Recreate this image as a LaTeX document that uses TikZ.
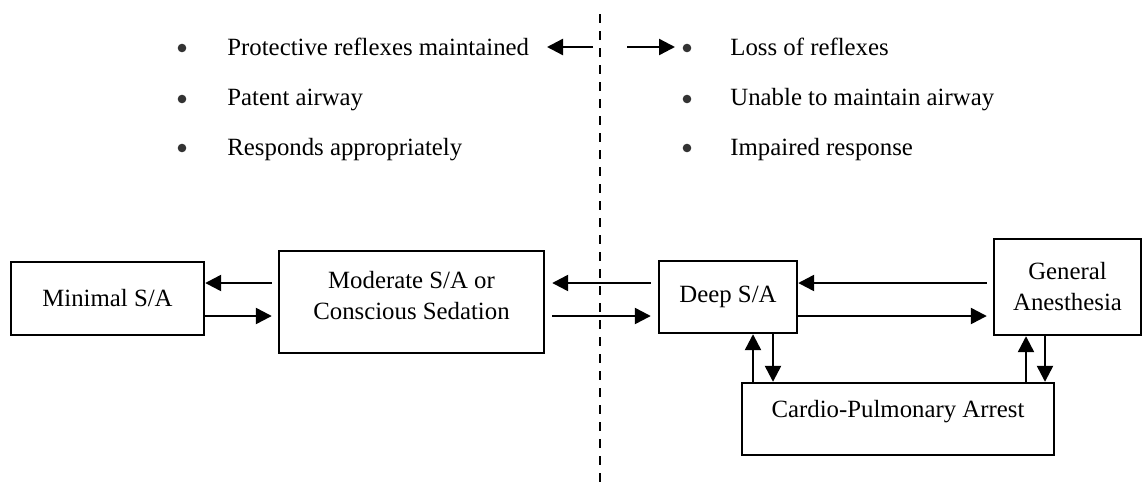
\documentclass[tikz,border=0pt]{standalone}
\usepackage{fontspec}
\setmainfont{Liberation Serif}
\usetikzlibrary{arrows.meta}
\tikzset{
  box/.style={draw, line width=1.2pt, inner sep=0pt, align=center},
  arr/.style={line width=1.2pt, -{Triangle[length=8pt,width=8pt]}},
  dot/.style={circle, fill=black!80, inner sep=0pt, minimum size=4.3pt},
  item/.style={anchor=base west, inner sep=0pt}
}
\begin{document}
\begin{tikzpicture}[x=0.5pt, y=-0.5pt, font=\fontsize{12.4}{15.5}\selectfont]
\useasboundingbox (0,0) rectangle (1146,483);
% dividing line
\coordinate (top) at (600,14);
\coordinate (bot) at (600,483);
\draw [line width=1.2pt, dash pattern=on 4.5pt off 4pt] (top) -- (bot);
% left list
\node [dot] (d1) at (182,48) {};
\node [dot] (d2) at (182,99) {};
\node [dot] (d3) at (182,148) {};
\node [item] (prot) at (227,55) {Protective reflexes maintained};
\node [item] (pat) at (227,105) {Patent airway};
\node [item] (resp) at (227,155) {Responds appropriately};
% right list
\node [dot] (e1) at (687,48) {};
\node [dot] (e2) at (687,99) {};
\node [dot] (e3) at (687,148) {};
\node [item] (loss) at (730,55) {Loss of reflexes};
\node [item] (unab) at (730,105) {Unable to maintain airway};
\node [item] (imp) at (730,155) {Impaired response};
\coordinate (ltail) at (593,47);
\coordinate (lhead) at (547,47);
\coordinate (rtail) at (627,47);
\coordinate (rhead) at (675,47);
\draw [arr] (ltail) -- (lhead);
\draw [arr] (rtail) -- (rhead);
% boxes
\node [box, minimum width=96.5pt, minimum height=36.5pt] (min) at (107.5,298.5) {Minimal S/A};
\node [box, minimum width=132.5pt, minimum height=51pt, text depth=7pt] (mod) at (411.5,302) {Moderate S/A or\\Conscious Sedation};
\node [box, minimum width=69pt, minimum height=36pt] (deep) at (728,297) {Deep S/A};
\node [box, minimum width=73.5pt, minimum height=48pt] (gen) at (1067.5,287) {General\\Anesthesia};
\node [box, minimum width=156pt, minimum height=36pt, text depth=10.5pt] (cpa) at (898,419) {Cardio-Pulmonary Arrest};
% connectors
\draw [arr, shorten <=3pt] (mod.west |- 0,283) -- (min.east |- 0,283);
\draw [arr, shorten >=3pt] (min.east |- 0,316) -- (mod.west |- 0,316);
\draw [arr, shorten <=3.5pt, shorten >=3.5pt] (deep.west |- 0,283) -- (mod.east |- 0,283);
\draw [arr, shorten <=3.5pt, shorten >=3.5pt] (mod.east |- 0,316) -- (deep.west |- 0,316);
\draw [arr, shorten <=3pt] (gen.west |- 0,283) -- (deep.east |- 0,283);
\draw [arr, shorten >=3pt] (deep.east |- 0,316) -- (gen.west |- 0,316);
\draw [arr] (cpa.north -| 753,0) -- (deep.south -| 753,0);
\draw [arr] (deep.south -| 773,0) -- (cpa.north -| 773,0);
\draw [arr] (cpa.north -| 1026,0) -- (gen.south -| 1026,0);
\draw [arr] (gen.south -| 1045,0) -- (cpa.north -| 1045,0);
\end{tikzpicture}
\end{document}
